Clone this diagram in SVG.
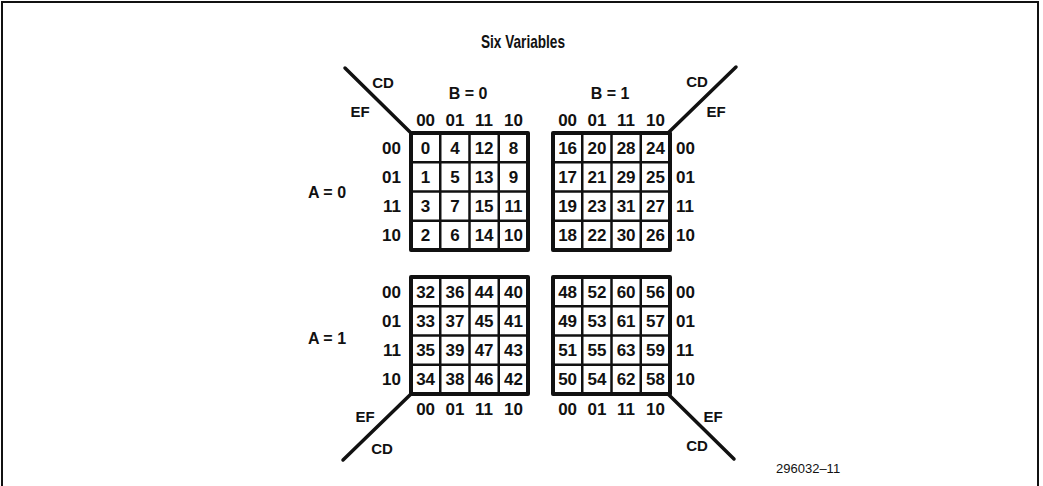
<svg xmlns="http://www.w3.org/2000/svg" xmlns:xlink="http://www.w3.org/1999/xlink" width="1043" height="486" viewBox="0 0 1043 486">
  <style>
    .frame { fill: none; stroke: #111; stroke-width: 2; }
    .outer { fill: #fff; stroke: #111; stroke-width: 4; stroke-linejoin: round; }
    .inner { stroke: #111; stroke-width: 2.5; }
    .diag { stroke: #111; stroke-width: 3.5; stroke-linecap: round; }
    text { font-family: "Liberation Sans", Arial, sans-serif; font-weight: bold; fill: #111; }
    .num { font-size: 17px; text-anchor: middle; }
    .hdr { font-size: 17px; text-anchor: middle; }
    .eq { font-size: 16px; text-anchor: middle; }
    .rowl { font-size: 17px; text-anchor: end; }
    .rowr { font-size: 17px; text-anchor: start; }
    .var { font-size: 15px; text-anchor: middle; }
    .title { font-size: 19px; text-anchor: middle; }
    .ref { font-size: 13px; font-weight: normal; text-anchor: start; }
  </style>
  <defs>
    <g id="grid">
      <rect class="outer" x="0" y="0" width="117" height="117"/>
      <line class="inner" x1="29.25" y1="0" x2="29.25" y2="117"/>
      <line class="inner" x1="58.5" y1="0" x2="58.5" y2="117"/>
      <line class="inner" x1="87.75" y1="0" x2="87.75" y2="117"/>
      <line class="inner" x1="0" y1="29.25" x2="117" y2="29.25"/>
      <line class="inner" x1="0" y1="58.5" x2="117" y2="58.5"/>
      <line class="inner" x1="0" y1="87.75" x2="117" y2="87.75"/>
    </g>
  </defs>

  <rect class="frame" x="2" y="2" width="1036" height="500"/>
  <text class="title" x="523" y="48" textLength="84" lengthAdjust="spacingAndGlyphs">Six Variables</text>

  <g id="connectors">
    <line class="diag" x1="345" y1="68" x2="411" y2="133"/>
    <line class="diag" x1="668" y1="133" x2="736" y2="67"/>
    <line class="diag" x1="411" y1="394" x2="343" y2="460"/>
    <line class="diag" x1="668" y1="394" x2="734" y2="459"/>
  </g>

  <g id="axis-labels">
    <text class="var" x="383" y="88">CD</text>
    <text class="var" x="360" y="117">EF</text>
    <text class="var" x="697" y="87">CD</text>
    <text class="var" x="716" y="117">EF</text>
    <text class="var" x="365" y="422">EF</text>
    <text class="var" x="382" y="454">CD</text>
    <text class="var" x="713" y="422">EF</text>
    <text class="var" x="697" y="451">CD</text>
    <text class="eq" x="468" y="99">B = 0</text>
    <text class="eq" x="610" y="99">B = 1</text>
    <text class="eq" x="327" y="198">A = 0</text>
    <text class="eq" x="327" y="344">A = 1</text>
    <text class="hdr" x="425.6" y="126">00</text>
    <text class="hdr" x="454.9" y="126">01</text>
    <text class="hdr" x="484.1" y="126">11</text>
    <text class="hdr" x="513.4" y="126">10</text>
    <text class="hdr" x="567.6" y="126">00</text>
    <text class="hdr" x="596.9" y="126">01</text>
    <text class="hdr" x="626.1" y="126">11</text>
    <text class="hdr" x="655.4" y="126">10</text>
    <text class="hdr" x="425.6" y="415">00</text>
    <text class="hdr" x="454.9" y="415">01</text>
    <text class="hdr" x="484.1" y="415">11</text>
    <text class="hdr" x="513.4" y="415">10</text>
    <text class="hdr" x="567.6" y="415">00</text>
    <text class="hdr" x="596.9" y="415">01</text>
    <text class="hdr" x="626.1" y="415">11</text>
    <text class="hdr" x="655.4" y="415">10</text>
    <text class="rowl" x="401" y="153.6">00</text>
    <text class="rowl" x="401" y="182.9">01</text>
    <text class="rowl" x="401" y="212.1">11</text>
    <text class="rowl" x="401" y="241.4">10</text>
    <text class="rowl" x="401" y="297.6">00</text>
    <text class="rowl" x="401" y="326.9">01</text>
    <text class="rowl" x="401" y="356.1">11</text>
    <text class="rowl" x="401" y="385.4">10</text>
    <text class="rowr" x="676" y="153.6">00</text>
    <text class="rowr" x="676" y="182.9">01</text>
    <text class="rowr" x="676" y="212.1">11</text>
    <text class="rowr" x="676" y="241.4">10</text>
    <text class="rowr" x="676" y="297.6">00</text>
    <text class="rowr" x="676" y="326.9">01</text>
    <text class="rowr" x="676" y="356.1">11</text>
    <text class="rowr" x="676" y="385.4">10</text>
  </g>

  <g id="map-a0-b0">
    <use xlink:href="#grid" href="#grid" x="411" y="133"/>
    <text class="num" x="425.6" y="153.6">0</text><text class="num" x="454.9" y="153.6">4</text><text class="num" x="484.1" y="153.6">12</text><text class="num" x="513.4" y="153.6">8</text>
    <text class="num" x="425.6" y="182.9">1</text><text class="num" x="454.9" y="182.9">5</text><text class="num" x="484.1" y="182.9">13</text><text class="num" x="513.4" y="182.9">9</text>
    <text class="num" x="425.6" y="212.1">3</text><text class="num" x="454.9" y="212.1">7</text><text class="num" x="484.1" y="212.1">15</text><text class="num" x="513.4" y="212.1">11</text>
    <text class="num" x="425.6" y="241.4">2</text><text class="num" x="454.9" y="241.4">6</text><text class="num" x="484.1" y="241.4">14</text><text class="num" x="513.4" y="241.4">10</text>
  </g>

  <g id="map-a0-b1">
    <use xlink:href="#grid" href="#grid" x="553" y="133"/>
    <text class="num" x="567.6" y="153.6">16</text><text class="num" x="596.9" y="153.6">20</text><text class="num" x="626.1" y="153.6">28</text><text class="num" x="655.4" y="153.6">24</text>
    <text class="num" x="567.6" y="182.9">17</text><text class="num" x="596.9" y="182.9">21</text><text class="num" x="626.1" y="182.9">29</text><text class="num" x="655.4" y="182.9">25</text>
    <text class="num" x="567.6" y="212.1">19</text><text class="num" x="596.9" y="212.1">23</text><text class="num" x="626.1" y="212.1">31</text><text class="num" x="655.4" y="212.1">27</text>
    <text class="num" x="567.6" y="241.4">18</text><text class="num" x="596.9" y="241.4">22</text><text class="num" x="626.1" y="241.4">30</text><text class="num" x="655.4" y="241.4">26</text>
  </g>

  <g id="map-a1-b0">
    <use xlink:href="#grid" href="#grid" x="411" y="277"/>
    <text class="num" x="425.6" y="297.6">32</text><text class="num" x="454.9" y="297.6">36</text><text class="num" x="484.1" y="297.6">44</text><text class="num" x="513.4" y="297.6">40</text>
    <text class="num" x="425.6" y="326.9">33</text><text class="num" x="454.9" y="326.9">37</text><text class="num" x="484.1" y="326.9">45</text><text class="num" x="513.4" y="326.9">41</text>
    <text class="num" x="425.6" y="356.1">35</text><text class="num" x="454.9" y="356.1">39</text><text class="num" x="484.1" y="356.1">47</text><text class="num" x="513.4" y="356.1">43</text>
    <text class="num" x="425.6" y="385.4">34</text><text class="num" x="454.9" y="385.4">38</text><text class="num" x="484.1" y="385.4">46</text><text class="num" x="513.4" y="385.4">42</text>
  </g>

  <g id="map-a1-b1">
    <use xlink:href="#grid" href="#grid" x="553" y="277"/>
    <text class="num" x="567.6" y="297.6">48</text><text class="num" x="596.9" y="297.6">52</text><text class="num" x="626.1" y="297.6">60</text><text class="num" x="655.4" y="297.6">56</text>
    <text class="num" x="567.6" y="326.9">49</text><text class="num" x="596.9" y="326.9">53</text><text class="num" x="626.1" y="326.9">61</text><text class="num" x="655.4" y="326.9">57</text>
    <text class="num" x="567.6" y="356.1">51</text><text class="num" x="596.9" y="356.1">55</text><text class="num" x="626.1" y="356.1">63</text><text class="num" x="655.4" y="356.1">59</text>
    <text class="num" x="567.6" y="385.4">50</text><text class="num" x="596.9" y="385.4">54</text><text class="num" x="626.1" y="385.4">62</text><text class="num" x="655.4" y="385.4">58</text>
  </g>

  <text class="ref" x="776" y="473">296032–11</text>
</svg>
